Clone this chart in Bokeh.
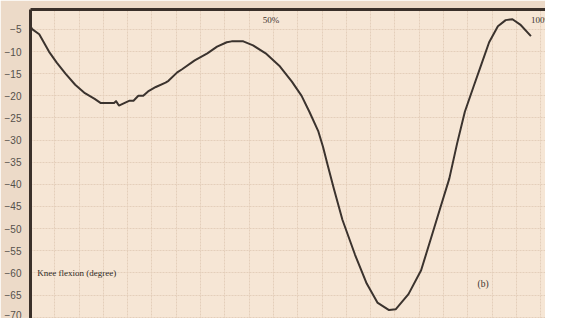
from bokeh.plotting import figure
from bokeh.models import LinearAxis, SingleIntervalTicker, FixedTicker, Range1d
from bokeh.core.properties import value
from bokeh.embed import file_html
from bokeh.resources import INLINE

# gait cycle position (grid unit = 5) and knee flexion angle (degree)
cycle = [0.0, 0.4, 1.8, 3.8, 5.4, 7.2, 9.2, 11.2, 13.2, 14.4, 15.8, 17.2, 17.6, 18.2,
         19.4, 20.4, 21.2, 22.2, 23.2, 24.2, 25.8, 27.8, 28.4, 30.2, 31.2, 33.8,
         36.4, 38.4, 40.4, 41.4, 43.8, 45.8, 48.4, 51.2, 53.8, 55.8, 57.4, 59.2,
         60.2, 61.2, 62.4, 64.2, 66.8, 69.2, 71.4, 73.8, 75.2, 77.8, 80.4, 82.4,
         84.4, 86.2, 87.8, 89.4, 91.2, 92.8, 94.4, 96.2, 97.8, 99.2, 100.8, 103.0]
flexion = [-4.3, -5.0, -6.1, -10.0, -12.5, -15.0, -17.5, -19.4, -20.7, -21.6, -21.6,
           -21.6, -21.2, -22.2, -21.6, -21.1, -21.1, -20.0, -20.0, -19.0, -18.0,
           -17.0, -16.6, -14.7, -14.0, -12.0, -10.4, -8.9, -7.9, -7.7, -7.7, -8.6,
           -10.4, -13.2, -16.8, -20.0, -23.6, -27.9, -31.5, -35.8, -40.8, -48.0,
           -55.9, -62.4, -66.7, -68.4, -68.2, -64.8, -59.4, -52.3, -45.1, -38.7,
           -30.8, -23.6, -17.9, -12.9, -7.9, -4.3, -2.9, -2.7, -3.9, -6.5]

marker_labels = ["50%", "100%"]
marker_x = [47.8, 103.0]
marker_y = [-2.9, -2.9]
y_title = "Knee flexion (degree)"
panel_tag = "(b)"

p = figure(width=545, height=318, output_backend="svg", toolbar_location=None,
           x_range=Range1d(0, 106), y_range=Range1d(-70.3, -0.5),
           x_axis_location=None, y_axis_location="left",
           min_border_left=30, min_border_top=9, min_border_right=0, min_border_bottom=0)

p.background_fill_color = "#f6e6d5"
p.border_fill_color = "#ecdac8"
p.outline_line_color = None

yax = p.yaxis[0]
yax.ticker = SingleIntervalTicker(interval=5)
yax.axis_line_width = 3
yax.axis_line_color = "#3a302a"
yax.major_tick_line_color = None
yax.minor_tick_line_color = None
yax.major_label_standoff = 3
yax.major_label_text_font = "Liberation Sans"
yax.major_label_text_font_size = "10px"
yax.major_label_text_color = "#55504b"

top = LinearAxis(ticker=FixedTicker(ticks=[]), axis_line_width=3, axis_line_color="#3a302a",
                 major_tick_line_color=None, minor_tick_line_color=None,
                 major_label_standoff=0, major_tick_out=0, major_tick_in=0,
                 minor_tick_out=0, minor_tick_in=0)
top.background_fill_color = "white"
p.add_layout(top, "above")

p.xgrid.ticker = SingleIntervalTicker(interval=5)
p.ygrid.ticker = SingleIntervalTicker(interval=5)
for g in (p.xgrid[0], p.ygrid[0]):
    g.grid_line_color = "#e4cfba"
    g.grid_line_dash = "2 1"
    g.grid_line_width = 1

p.line(cycle, flexion, line_color="#3b332e", line_width=2, line_join="round")

p.text(x=marker_x, y=marker_y, text=marker_labels, text_font=value("Liberation Serif"),
       text_font_size="9px", text_color="#3b332e", text_baseline="middle")
p.text(x=[1.4], y=[-60], text=[y_title], text_font=value("Liberation Serif"),
       text_font_size="9px", text_color="#2e2824", text_baseline="middle")
p.text(x=[92], y=[-62.4], text=[panel_tag], text_font=value("Liberation Serif"),
       text_font_size="9.5px", text_color="#3b332e", text_baseline="middle")

open("out.html", "w").write(file_html(p, INLINE))
